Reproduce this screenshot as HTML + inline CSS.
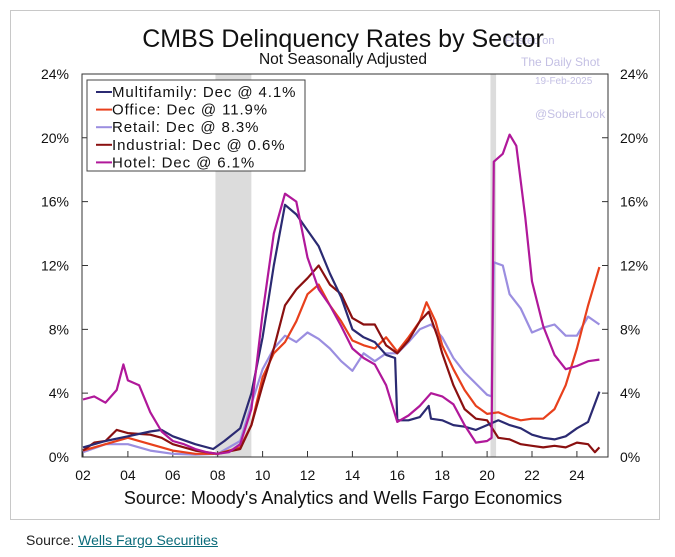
<!DOCTYPE html>
<html><head><meta charset="utf-8">
<style>
body{margin:0;background:#fff;width:675px;height:557px;overflow:hidden;font-family:"Liberation Sans",sans-serif;}
#frame{position:absolute;left:10px;top:10px;width:650px;height:510px;border:1px solid #c8c8c8;box-sizing:border-box;}
#src{position:absolute;left:26px;top:532px;font-size:14px;color:#222;}
#src a{color:#0a6b7a;text-decoration:underline;}
svg{position:absolute;left:0;top:0;}
</style></head>
<body>
<div id="frame"></div>
<svg width="675" height="557" id="chart" font-family="Liberation Sans, sans-serif"></svg>
<div id="src">Source: <a>Wells Fargo Securities</a></div>
<script>
const yTicks=[0,4,8,12,16,20,24];
const xTickYears=[2002,2004,2006,2008,2010,2012,2014,2016,2018,2020,2022,2024];
const xTickLabels=["02","04","06","08","10","12","14","16","18","20","22","24"];
const seriesNames=["Multifamily: Dec @ 4.1%","Office: Dec @ 11.9%","Retail: Dec @ 8.3%","Industrial: Dec @ 0.6%","Hotel: Dec @ 6.1%"];
const seriesColors=["#2b2a72","#e8401c","#9b8ee0","#8a1010","#b0189a"];
const multifamilyYears=[2002,2003,2004,2005,2005.5,2006,2007,2007.8,2008.3,2009,2009.5,2010,2010.5,2011,2011.5,2012,2012.5,2013,2013.5,2014,2014.5,2015,2015.5,2015.9,2016,2016.5,2017,2017.4,2017.5,2018,2018.5,2019,2019.5,2020,2020.5,2021,2021.5,2022,2022.5,2023,2023.5,2024,2024.5,2025];
const multifamilyVals=[0.6,1.0,1.3,1.6,1.7,1.3,0.8,0.5,1.0,1.8,4.0,7.5,12,15.8,15.2,14.2,13.2,11.5,10,8,7.5,7.2,6.4,6.2,2.3,2.3,2.5,3.2,2.4,2.3,2.0,1.9,1.7,2.0,2.3,2.0,1.8,1.4,1.2,1.1,1.3,1.8,2.2,4.1];
const officeYears=[2002,2003,2004,2005,2006,2007,2008,2009,2009.5,2010,2010.5,2011,2011.5,2012,2012.5,2013,2013.5,2014,2014.5,2015,2015.5,2016,2016.5,2017,2017.3,2017.7,2018,2018.5,2019,2019.5,2020,2020.5,2021,2021.5,2022,2022.5,2023,2023.5,2024,2024.5,2025];
const officeVals=[0.4,0.8,1.2,0.8,0.4,0.2,0.2,0.6,2,5,6.5,7.2,8.5,10.2,10.8,9.5,8.5,7.3,7.0,6.8,7.5,6.6,7.5,8.5,9.7,8.5,7.0,5.5,4.2,3.2,2.7,2.8,2.5,2.3,2.4,2.4,3.0,4.5,6.8,9.5,11.9];
const retailYears=[2002,2003,2004,2005,2006,2007,2008,2009,2009.5,2010,2010.5,2011,2011.5,2012,2012.5,2013,2013.5,2014,2014.5,2015,2015.5,2016,2016.5,2017,2017.5,2018,2018.5,2019,2019.5,2020,2020.2,2020.3,2020.7,2021,2021.5,2022,2022.5,2023,2023.5,2024,2024.5,2025];
const retailVals=[0.3,0.8,0.8,0.4,0.2,0.15,0.2,1.0,3.3,5.5,6.8,7.6,7.2,7.8,7.4,6.8,6.0,5.4,6.5,6.0,6.5,6.5,7.2,8.0,8.3,7.5,6.2,5.3,4.6,3.9,3.8,12.2,12.0,10.2,9.3,7.8,8.1,8.3,7.6,7.6,8.8,8.3];
const industrialYears=[2002,2002.5,2003,2003.5,2004,2005,2005.5,2006,2007,2008,2009,2009.5,2010,2010.5,2011,2011.5,2012,2012.5,2013,2013.5,2014,2014.5,2015,2015.5,2016,2016.5,2017,2017.4,2017.8,2018,2018.5,2019,2019.5,2020,2020.5,2021,2021.5,2022,2022.5,2023,2023.5,2024,2024.5,2024.8,2025];
const industrialVals=[0.4,0.9,1.0,1.7,1.5,1.4,1.2,0.8,0.4,0.2,0.5,2,4.5,6.8,9.5,10.5,11.2,12.0,10.8,10.2,8.7,8.3,8.3,7.0,6.5,7.3,8.5,9.1,7.5,6.5,4.5,3.0,2.4,2.3,1.2,1.1,0.8,0.7,0.6,0.7,0.6,0.9,0.8,0.3,0.6];
const hotelYears=[2002,2002.5,2003,2003.5,2003.8,2004,2004.5,2005,2005.5,2006,2006.5,2007,2007.5,2008,2008.5,2009,2009.5,2010,2010.5,2011,2011.5,2012,2012.5,2013,2013.5,2014,2014.5,2015,2015.5,2016,2016.5,2017,2017.5,2018,2018.5,2019,2019.5,2020,2020.2,2020.3,2020.7,2021,2021.3,2021.7,2022,2022.5,2023,2023.5,2024,2024.5,2025];
const hotelVals=[3.6,3.8,3.4,4.2,5.8,4.8,4.5,2.8,1.6,1.0,0.8,0.5,0.3,0.2,0.3,0.8,3,9,14,16.5,16,12.5,10.5,9.5,8.2,6.8,6.2,5.8,4.5,2.2,2.6,3.2,4.0,3.8,3.3,2.0,0.9,1.0,1.2,18.5,19,20.2,19.5,15,11,8.2,6.4,5.5,5.7,6.0,6.1];
const recessions=[[2007.9,2009.5],[2020.15,2020.4]];

const X0=83,PX=22.45,Y0=457,PY=15.96,L=82,R=608,T=74;
const xs=y=>X0+(y-2002)*PX, ys=v=>Y0-v*PY;
const svg=document.getElementById('chart');
const NS="http://www.w3.org/2000/svg";
function mk(t,a,txt){const e=document.createElementNS(NS,t);for(const k in a)e.setAttribute(k,a[k]);if(txt!==undefined)e.textContent=txt;svg.appendChild(e);return e;}

recessions.forEach(r=>{
 const e=mk('rect',{x:xs(r[0]),y:T,width:xs(r[1])-xs(r[0]),height:Y0-T,fill:'#dcdcdc'});
 
 
});
[["Posted on",505,44,11],["The Daily Shot",521,66,12],["19-Feb-2025",535,84,10],["@SoberLook",535,118,12]].forEach(w=>{
 const e=mk('text',{x:w[1],y:w[2],fill:'#c4c0e4','font-size':w[3]},w[0]);
 
 
});
const titleEl=mk('text',{x:343,y:47,'text-anchor':'middle','font-size':25,fill:'#111'},"CMBS Delinquency Rates by Sector");

const subEl=mk('text',{x:343,y:64,'text-anchor':'middle','font-size':15.5,fill:'#111'},"Not Seasonally Adjusted");


const ax=mk('path',{d:`M${L},${T}H${R}V${Y0}H${L}Z`,fill:'none',stroke:'#333','stroke-width':1});

yTicks.forEach(v=>{
 const y=ys(v);
 mk('path',{d:`M${L},${y}h6M${R},${y}h-6`,stroke:'#333'});
 const a=mk('text',{x:69,y:y+5,'text-anchor':'end','font-size':14,fill:'#111'},v+'%');
 
 const b=mk('text',{x:620,y:y+5,'font-size':14,fill:'#111'},v+'%');
 
});
xTickYears.forEach((yr,i)=>{
 const x=xs(yr);
 mk('path',{d:`M${x},${Y0}v-6`,stroke:'#333'});
 const t=mk('text',{x:x,y:480,'text-anchor':'middle','font-size':14,fill:'#111'},xTickLabels[i]);
 
});
const allYears=[multifamilyYears,officeYears,retailYears,industrialYears,hotelYears];
const allVals=[multifamilyVals,officeVals,retailVals,industrialVals,hotelVals];
const keys=['multifamily','office','retail','industrial','hotel'];
[2,1,3,0,4].forEach(i=>{
 const d=allYears[i].map((yr,j)=>(j?'L':'M')+xs(yr).toFixed(1)+','+ys(allVals[i][j]).toFixed(1)).join('');
 const p=mk('path',{d:d,fill:'none',stroke:seriesColors[i],'stroke-width':2.2,'stroke-linejoin':'round'});
 
 
});
const lb=mk('rect',{x:87,y:80,width:218,height:91,fill:'#fff',stroke:'#444','stroke-width':1});

seriesNames.forEach((n,i)=>{
 const y=92+i*17.6;
 mk('path',{d:`M96,${y}h16`,stroke:seriesColors[i],'stroke-width':2});
 const t=mk('text',{x:112,y:y+5,'font-size':15,'letter-spacing':'0.9',fill:'#111'},n);
 
});
const s=mk('text',{x:343,y:504,'text-anchor':'middle','font-size':18,fill:'#111'},"Source: Moody's Analytics and Wells Fargo Economics");

</script>
</body></html>
